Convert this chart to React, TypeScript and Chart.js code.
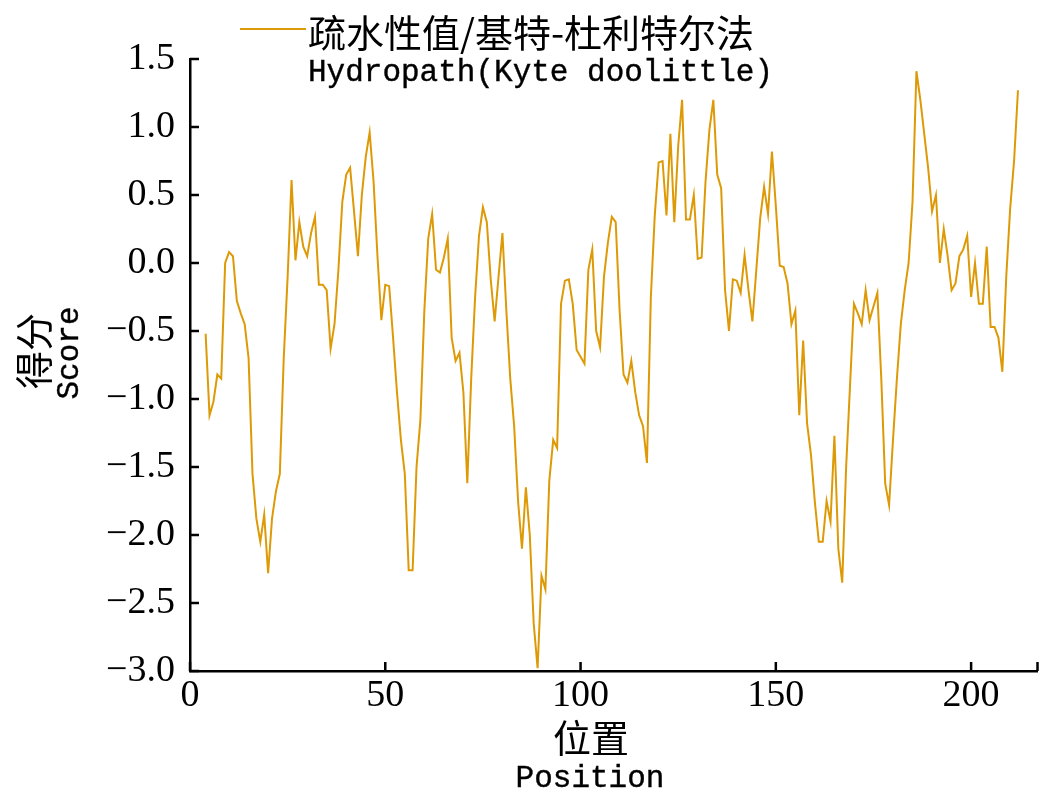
import React, { useEffect, useRef } from "react";
import { Chart, registerables } from "chart.js";

Chart.register(...registerables);

// Hydropathy (Kyte-Doolittle) scores, positions start at 4
const startPosition = 4;
const scores: number[] = [
  -0.52, -1.12, -1.02, -0.82, -0.85, 0.0, 0.08, 0.05, -0.28, -0.37,
  -0.45, -0.7, -1.55, -1.88, -2.05, -1.85, -2.28, -1.88, -1.68, -1.55,
  -0.7, -0.1, 0.61, 0.02, 0.3, 0.12, 0.05, 0.22, 0.34, -0.16,
  -0.16, -0.2, -0.63, -0.45, -0.05, 0.45, 0.65, 0.7, 0.38, 0.05,
  0.5, 0.78, 0.96, 0.6, 0.05, -0.42, -0.16, -0.17, -0.55, -0.95,
  -1.3, -1.55, -2.26, -2.26, -1.5, -1.15, -0.35, 0.18, 0.36, -0.05,
  -0.07, 0.04, 0.18, -0.55, -0.72, -0.66, -0.95, -1.62, -0.85, -0.25,
  0.2, 0.41, 0.3, -0.12, -0.43, -0.1, 0.22, -0.35, -0.85, -1.2,
  -1.75, -2.1, -1.65, -2.0, -2.65, -2.98, -2.3, -2.4, -1.6, -1.3,
  -1.36, -0.3, -0.13, -0.12, -0.3, -0.64, -0.69, -0.74, -0.05, 0.1,
  -0.5, -0.62, -0.1, 0.15, 0.34, 0.3, -0.35, -0.82, -0.88, -0.72,
  -0.95, -1.12, -1.2, -1.47, -0.25, 0.35, 0.74, 0.75, 0.35, 0.95,
  0.3, 0.86, 1.2, 0.32, 0.32, 0.5, 0.03, 0.04, 0.6, 0.98,
  1.2, 0.65, 0.55, -0.2, -0.5, -0.12, -0.13, -0.22, 0.06, -0.2,
  -0.43, -0.05, 0.33, 0.56, 0.36, 0.82, 0.42, -0.02, -0.03, -0.15,
  -0.45, -0.35, -1.12, -0.57, -1.18, -1.41, -1.76, -2.05, -2.05, -1.75,
  -1.9, -1.27, -2.1, -2.35, -1.5, -0.9, -0.3, -0.37, -0.45, -0.2,
  -0.42, -0.32, -0.22, -0.85, -1.62, -1.78, -1.3, -0.85, -0.45, -0.2,
  0.0, 0.45, 1.41, 1.2, 0.95, 0.7, 0.38, 0.5, 0.0, 0.25,
  0.05, -0.2, -0.15, 0.05, 0.1, 0.2, -0.25, 0.0, -0.3, -0.3,
  0.12, -0.47, -0.47, -0.55, -0.8, -0.1, 0.4, 0.75, 1.27,
];

const xMin = 0;
const xMax = 217;
const xStep = 50;
const yMin = -3;
const yMax = 1.5;
const yStep = 0.5;

const legendLabelCn = "疏水性值/基特-杜利特尔法";
const legendLabelEn = "Hydropath(Kyte doolittle)";
const yTitleCn = "得分";
const yTitleEn = "Score";
const xTitleCn = "位置";
const xTitleEn = "Position";

const lineColor = "#DE9A06";
const cjkFont = "'Noto Sans CJK SC', sans-serif";
const monoFont = "'Liberation Mono', monospace";
const serifFont = "'Liberation Serif', serif";

const formatY = (v: number) => (v < 0 ? "\u2212" : "") + Math.abs(v).toFixed(1);

const drawLatin = (ctx: any, text: string, x: number, y: number) => {
  ctx.fillText(text, x, y);
  ctx.lineWidth = 0.4;
  ctx.strokeStyle = "#000";
  ctx.strokeText(text, x, y);
};

const decorPlugin = {
  id: "decor",
  afterDraw(chart: any) {
    const { ctx, chartArea, scales } = chart;
    const xs = scales.x;
    const ys = scales.y;
    ctx.save();
    ctx.strokeStyle = "#000";
    ctx.lineWidth = 2.5;
    // inward ticks on y axis
    ys.ticks.forEach((t: any) => {
      const py = ys.getPixelForValue(t.value);
      ctx.beginPath();
      ctx.moveTo(chartArea.left, py);
      ctx.lineTo(chartArea.left + 9, py);
      ctx.stroke();
    });
    // inward ticks on x axis, plus axis end
    const xv: number[] = xs.ticks.map((t: any) => t.value);
    if (!xv.includes(xs.max)) xv.push(xs.max);
    xv.forEach((v) => {
      const px = xs.getPixelForValue(v);
      ctx.beginPath();
      ctx.moveTo(px, chartArea.bottom);
      ctx.lineTo(px, chartArea.bottom - 9);
      ctx.stroke();
    });

    ctx.fillStyle = "#000";
    // legend
    ctx.strokeStyle = lineColor;
    ctx.lineWidth = 2;
    ctx.beginPath();
    ctx.moveTo(240, 29);
    ctx.lineTo(306, 29);
    ctx.stroke();
    ctx.textAlign = "left";
    ctx.textBaseline = "middle";
    ctx.font = `38px ${cjkFont}`;
    ctx.fillText(legendLabelCn, 308, 33);
    ctx.textBaseline = "alphabetic";
    ctx.font = `31px ${monoFont}`;
    drawLatin(ctx, legendLabelEn, 308, 81);

    // x title
    ctx.textAlign = "center";
    ctx.textBaseline = "middle";
    ctx.font = `38px ${cjkFont}`;
    ctx.fillText(xTitleCn, 591, 738);
    ctx.font = `31px ${monoFont}`;
    drawLatin(ctx, xTitleEn, 590, 779);

    // y title (rotated)
    ctx.save();
    ctx.translate(34, 351);
    ctx.rotate(-Math.PI / 2);
    ctx.font = `38px ${cjkFont}`;
    ctx.fillText(yTitleCn, 0, 0);
    ctx.restore();
    ctx.save();
    ctx.translate(70, 353);
    ctx.rotate(-Math.PI / 2);
    ctx.font = `31px ${monoFont}`;
    drawLatin(ctx, yTitleEn, 0, 0);
    ctx.restore();

    ctx.restore();
  },
};

export default function App() {
  const canvasRef = useRef<HTMLCanvasElement | null>(null);

  useEffect(() => {
    if (!canvasRef.current) return;
    const chart = new Chart(canvasRef.current, {
      type: "line",
      data: {
        datasets: [
          {
            label: legendLabelEn,
            data: scores.map((s, i) => ({ x: startPosition + i, y: s })),
            borderColor: lineColor,
            borderWidth: 2,
            pointRadius: 0,
            tension: 0,
            fill: false,
          },
        ],
      },
      options: {
        animation: false,
        responsive: true,
        maintainAspectRatio: false,
        layout: { padding: { left: 0, right: 17.5, top: 59, bottom: 0 } },
        plugins: {
          legend: { display: false },
          tooltip: { enabled: false },
        },
        scales: {
          x: {
            type: "linear",
            min: xMin,
            max: xMax,
            border: { display: true, color: "#000", width: 2.5 },
            grid: { display: false, drawTicks: false },
            ticks: {
              stepSize: xStep,
              includeBounds: false,
              autoSkip: false,
              maxRotation: 0,
              padding: 2,
              color: "#000",
              font: { family: serifFont, size: 38 },
              callback: (v: any) => String(v),
            },
            afterFit: (s: any) => {
              s.height = 134;
            },
          },
          y: {
            type: "linear",
            min: yMin,
            max: yMax,
            border: { display: true, color: "#000", width: 2.5 },
            grid: { display: false, drawTicks: false },
            ticks: {
              stepSize: yStep,
              padding: 15,
              color: "#000",
              font: { family: serifFont, size: 38 },
              callback: (v: any) => formatY(Number(v)),
            },
            afterFit: (s: any) => {
              s.width = 190;
            },
          },
        },
      },
      plugins: [decorPlugin],
    });
    return () => chart.destroy();
  }, []);

  return (
    <div
      style={{
        position: "fixed",
        left: 0,
        top: 0,
        width: "1055px",
        height: "805px",
        background: "#fff",
      }}
    >
      <canvas ref={canvasRef} />
    </div>
  );
}
